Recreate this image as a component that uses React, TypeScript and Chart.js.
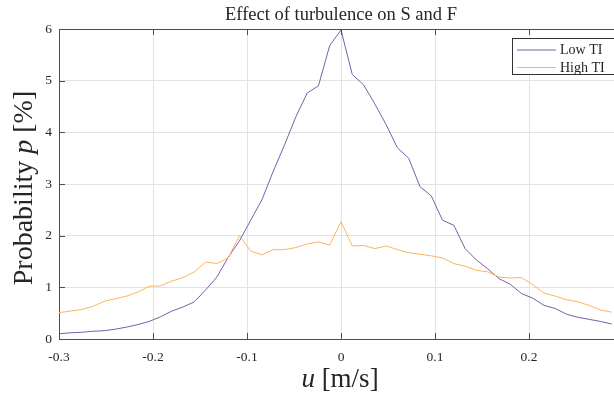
import React, { useEffect, useRef } from 'react';
import { Chart, registerables } from 'chart.js';

Chart.register(...registerables);

const chartTitle = 'Effect of turbulence on S and F';
const seriesNames = ['Low TI', 'High TI'];
const seriesColors = ['#7461a8', '#fbb55e'];

const uValues = [
  -0.3, -0.288, -0.276, -0.264, -0.252, -0.24, -0.228, -0.216, -0.204, -0.192,
  -0.18, -0.168, -0.156, -0.144, -0.132, -0.12, -0.108, -0.096, -0.084, -0.072,
  -0.06, -0.048, -0.036, -0.024, -0.012, 0, 0.012, 0.024, 0.036, 0.048,
  0.06, 0.072, 0.084, 0.096, 0.108, 0.12, 0.132, 0.144, 0.156, 0.168,
  0.18, 0.192, 0.204, 0.216, 0.228, 0.24, 0.252, 0.264, 0.276, 0.288,
];

const lowTI = [
  0.10, 0.12, 0.13, 0.15, 0.16, 0.19, 0.23, 0.28, 0.34, 0.43,
  0.54, 0.62, 0.72, 0.95, 1.20, 1.58, 1.90, 2.30, 2.70, 3.25,
  3.76, 4.30, 4.76, 4.90, 5.68, 5.98, 5.12, 4.92, 4.55, 4.15,
  3.70, 3.50, 2.95, 2.77, 2.30, 2.20, 1.75, 1.53, 1.36, 1.17,
  1.06, 0.88, 0.79, 0.65, 0.59, 0.48, 0.42, 0.38, 0.34, 0.29,
];

const highTI = [
  0.51, 0.54, 0.57, 0.63, 0.73, 0.78, 0.83, 0.91, 1.02, 1.03,
  1.12, 1.19, 1.30, 1.49, 1.46, 1.57, 2.00, 1.70, 1.63, 1.73,
  1.73, 1.77, 1.84, 1.88, 1.82, 2.27, 1.80, 1.81, 1.75, 1.80,
  1.73, 1.67, 1.64, 1.61, 1.57, 1.46, 1.41, 1.33, 1.30, 1.20,
  1.18, 1.19, 1.05, 0.89, 0.83, 0.76, 0.72, 0.65, 0.56, 0.52,
];

const xTicks = [-0.3, -0.2, -0.1, 0, 0.1, 0.2];
const yTicks = [0, 1, 2, 3, 4, 5, 6];

const SERIF = '"Liberation Serif", "Times New Roman", serif';
const AXIS_COLOR = '#4d4d4d';
const TEXT_COLOR = '#262626';
const GRID_COLOR = '#e3e3e3';

type Part = [string, boolean];

function drawRich(ctx: CanvasRenderingContext2D, parts: Part[], cx: number, cy: number, size: number) {
  const fontFor = (it: boolean) => `${it ? 'italic ' : ''}${size}px ${SERIF}`;
  let total = 0;
  const widths = parts.map(([t, it]) => {
    ctx.font = fontFor(it);
    const w = ctx.measureText(t).width;
    total += w;
    return w;
  });
  let x = cx - total / 2;
  ctx.textAlign = 'left';
  ctx.textBaseline = 'middle';
  parts.forEach(([t, it], i) => {
    ctx.font = fontFor(it);
    ctx.fillText(t, x, cy);
    x += widths[i];
  });
}

const decorPlugin = {
  id: 'decor',
  afterDraw(chart: any) {
    const { ctx, chartArea } = chart;
    const { left, right, top, bottom } = chartArea;
    const xs = chart.scales.x;
    const ys = chart.scales.y;
    ctx.save();
    ctx.strokeStyle = AXIS_COLOR;
    ctx.lineWidth = 1;
    ctx.beginPath();
    ctx.moveTo(left, Math.round(top) + 0.5);
    ctx.lineTo(right, Math.round(top) + 0.5);
    xTicks.forEach((v) => {
      const px = Math.round(xs.getPixelForValue(v)) + 0.5;
      ctx.moveTo(px, bottom);
      ctx.lineTo(px, bottom - 6);
      ctx.moveTo(px, top);
      ctx.lineTo(px, top + 6);
    });
    yTicks.forEach((v) => {
      const py = Math.round(ys.getPixelForValue(v)) + 0.5;
      ctx.moveTo(left, py);
      ctx.lineTo(left + 6, py);
    });
    ctx.stroke();

    // axis titles
    ctx.fillStyle = TEXT_COLOR;
    drawRich(ctx, [['u', true], [' [m/s]', false]], (left + right) / 2 - 1, 380, 27);
    ctx.save();
    ctx.translate(25, (top + bottom) / 2 + 4);
    ctx.rotate(-Math.PI / 2);
    drawRich(ctx, [['Probability ', false], ['p', true], [' [%]', false]], 0, 0, 28);
    ctx.restore();

    // legend
    const bx = 512.5;
    const by = 38.5;
    ctx.fillStyle = '#ffffff';
    ctx.fillRect(bx, by, 110, 36);
    ctx.strokeStyle = '#333333';
    ctx.strokeRect(bx, by, 110, 36);
    chart.data.datasets.forEach((ds: any, i: number) => {
      const ly = 50 + i * 17.5;
      ctx.strokeStyle = ds.borderColor;
      ctx.lineWidth = 1;
      ctx.beginPath();
      ctx.moveTo(517, ly);
      ctx.lineTo(556, ly);
      ctx.stroke();
      ctx.fillStyle = TEXT_COLOR;
      ctx.font = `14px ${SERIF}`;
      ctx.textAlign = 'left';
      ctx.textBaseline = 'middle';
      ctx.fillText(ds.label, 560, ly + 0.5);
    });
    ctx.restore();
  },
};

export default function App() {
  const canvasRef = useRef<HTMLCanvasElement | null>(null);

  useEffect(() => {
    const canvas = canvasRef.current;
    if (!canvas) return;
    const chart = new Chart(canvas, {
      type: 'line',
      data: {
        datasets: [
          {
            label: seriesNames[0],
            data: uValues.map((u, i) => ({ x: u, y: lowTI[i] })),
            borderColor: seriesColors[0],
            backgroundColor: seriesColors[0],
            borderWidth: 1,
            pointRadius: 0,
            tension: 0,
            order: 1,
          },
          {
            label: seriesNames[1],
            data: uValues.map((u, i) => ({ x: u, y: highTI[i] })),
            borderColor: seriesColors[1],
            backgroundColor: seriesColors[1],
            borderWidth: 1,
            pointRadius: 0,
            tension: 0,
            order: 0,
          },
        ],
      },
      options: {
        animation: false,
        responsive: false,
        devicePixelRatio: 1,
        layout: { padding: 0 },
        plugins: {
          legend: { display: false },
          tooltip: { enabled: false },
          title: {
            display: true,
            text: chartTitle,
            fullSize: false,
            color: TEXT_COLOR,
            font: { family: SERIF, size: 18.5, weight: 'normal' },
            padding: { top: 4.5, bottom: 2.3 },
          },
        },
        scales: {
          x: {
            type: 'linear',
            min: -0.3,
            max: 0.3,
            afterBuildTicks: (s: any) => {
              s.ticks = xTicks.map((v) => ({ value: v }));
            },
            afterFit: (s: any) => {
              s.height = 59;
            },
            ticks: {
              autoSkip: false,
              maxRotation: 0,
              padding: 10,
              color: TEXT_COLOR,
              font: { family: SERIF, size: 13.5 },
              callback: (v: any) => (Number(v) === 0 ? '0' : Number(v).toFixed(1)),
            },
            grid: { color: GRID_COLOR, drawTicks: false },
            border: { color: AXIS_COLOR, width: 1 },
          },
          y: {
            type: 'linear',
            min: 0,
            max: 6,
            afterBuildTicks: (s: any) => {
              s.ticks = yTicks.map((v) => ({ value: v }));
            },
            afterFit: (s: any) => {
              s.width = 59;
            },
            ticks: {
              padding: 7,
              color: TEXT_COLOR,
              font: { family: SERIF, size: 13.5 },
              callback: (v: any) => String(v),
            },
            grid: { color: GRID_COLOR, drawTicks: false },
            border: { color: AXIS_COLOR, width: 1 },
          },
        },
      },
      plugins: [decorPlugin],
    } as any);
    return () => chart.destroy();
  }, []);

  return (
    <div
      style={{
        position: 'absolute',
        left: 0,
        top: 0,
        width: 614,
        height: 398,
        overflow: 'hidden',
        background: '#ffffff',
      }}
    >
      <canvas ref={canvasRef} width={623} height={398} style={{ display: 'block', width: 623, height: 398 }} />
    </div>
  );
}
